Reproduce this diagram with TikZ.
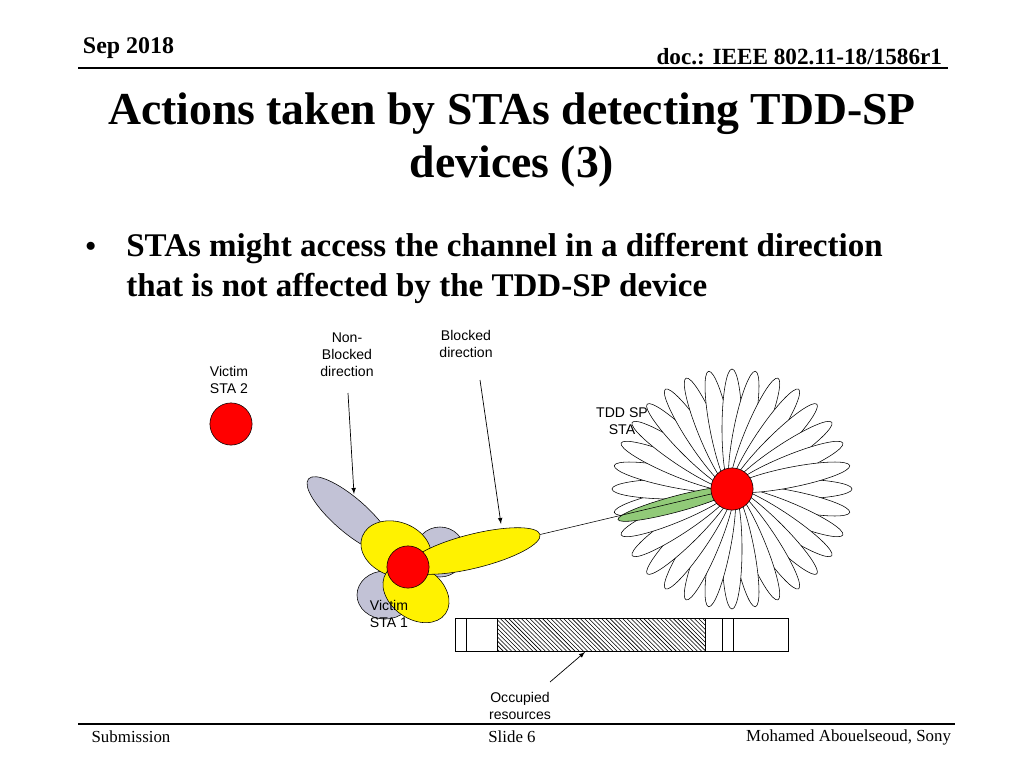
\documentclass[tikz,border=0pt]{standalone}
\usepackage{fontspec}
\setmainfont{Liberation Serif}
\newfontfamily\arialfont{Liberation Sans}
\usetikzlibrary{patterns,shapes.geometric,calc}
\tikzset{
  lbl/.style={font=\arialfont\fontsize{10}{12}\selectfont,align=center},
  sta/.style={circle,draw,fill=red,minimum size=30pt,inner sep=0pt},
  lobe/.style 2 args={ellipse,draw,inner sep=0pt,minimum width=#1*0.05cm,minimum height=#2*0.05cm},
  petal/.style={lobe={60}{10},fill=white},
  arr/.style={->,>=latex,line width=0.5pt}
}
\begin{document}
\begin{tikzpicture}[x=0.025cm,y=-0.025cm]
\useasboundingbox (0,0) rectangle (1024,768);
% header
\node[anchor=west,font=\bfseries\fontsize{17}{20}\selectfont] (date) at (78,48) {Sep 2018};
\node[anchor=east,font=\bfseries\fontsize{16.5}{20}\selectfont] (doc) at (947,57) {doc.: IEEE 802.11-18/1586r1};
\draw[line width=1pt] (78,68) -- (948,68);
\node[font=\bfseries\fontsize{32.5}{38}\selectfont,align=center] (title) at (512,140) {Actions taken by STAs detecting TDD-SP\\devices (3)};
\node[anchor=west,font=\fontsize{24}{28}\selectfont] (bul) at (80,250) {\textbullet};
\node[anchor=north west,font=\bfseries\fontsize{23.5}{28.5}\selectfont,align=left,inner sep=0pt] (txt) at (126,233) {STAs might access the channel in a different direction\\that is not affected by the TDD-SP device};
% TDD SP station
\coordinate (c) at (732,489);
\foreach \a in {0,11.25,...,348.75}
  \node[petal,rotate=-\a] (p\a) at ($(c)+(\a:60)$) {};
\node[lobe={60}{8},fill=olive!30!green!55!white,rotate=195] (beam) at ($(c)+(-195:58)$) {};
% victim STA 1 lobes
\node[lobe={55}{17},fill=blue!20!gray!40,rotate=-41] (g1) at (350,515) {};
\node[lobe={25}{25},fill=blue!20!gray!40] (g2) at (440,552) {};
\node[lobe={28}{24},fill=blue!20!gray!40] (g3) at (385,595) {};
\node[lobe={36}{27},fill=yellow,rotate=-20] (y1) at (396,549) {};
\node[lobe={36}{26},fill=yellow,rotate=-35] (y2) at (416,593) {};
\node[lobe={68}{17},fill=yellow,rotate=14] (y3) at (474,551) {};
\draw (y3.east) -- (c);
\node[sta] (tdd) at (c) {};
\node[sta] (v1) at (408,567) {};
\node[sta] (v2) at (231,424) {};
% labels
\node[lbl] (v2l) at (229,380) {Victim\\STA 2};
\node[lbl] (v1l) at (389,614) {Victim\\STA 1};
\node[lbl] (tddl) at (622,421) {TDD SP\\STA};
\node[lbl] (nbl) at (347,355) {Non-\\Blocked\\direction};
\node[lbl] (bl) at (466,344) {Blocked\\direction};
\node[lbl] (occ) at (520,706) {Occupied\\resources};
\coordinate (nbend) at (354,494);
\coordinate (bend) at (501,524);
\coordinate (oend) at (585,652);
\draw[arr] (348,393) -- (nbend);
\draw[arr] (480,380) -- (bend);
\draw[arr] (550,682) -- (oend);
% resource bar
\fill[pattern=north west lines] (497,618) rectangle (705,651);
\draw (455,618) rectangle (788,651);
\foreach \x in {466,497,705,722,733}
  \draw (\x,618) -- (\x,651);
% footer
\draw[line width=1pt] (78,724) -- (955,724);
\node[font=\fontsize{12}{14}\selectfont] (sub) at (131,737) {Submission};
\node[font=\fontsize{12}{14}\selectfont] (slide) at (512,737) {Slide 6};
\node[anchor=east,font=\fontsize{12}{14}\selectfont] (auth) at (956,737) {Mohamed Abouelseoud, Sony};
\end{tikzpicture}
\end{document}
